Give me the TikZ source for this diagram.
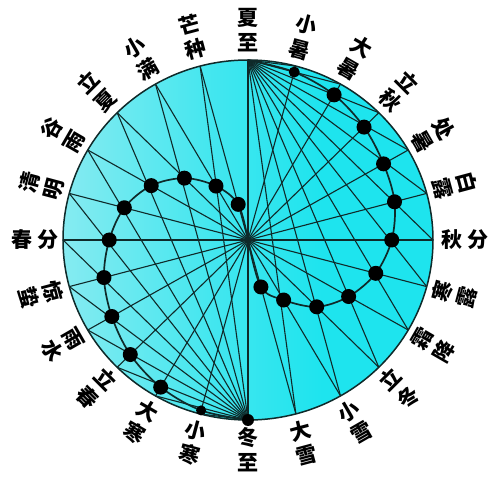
\documentclass[tikz,border=0pt]{standalone}
\usepackage{fontspec}
\newfontfamily\cjk{Noto Sans CJK SC}
\usepackage{xcolor}
\usepackage{tikz}
\definecolor{linedark}{HTML}{0F2A2A}
\definecolor{palecyan}{HTML}{B4EEF2}
\definecolor{brightcyan}{HTML}{1EE4EE}
\pgfdeclarehorizontalshading{discshade}{100bp}{color(0bp)=(palecyan); color(20bp)=(palecyan!80!brightcyan); color(45bp)=(palecyan!25!brightcyan); color(60bp)=(brightcyan); color(100bp)=(brightcyan)}

\tikzset{
  term/.style={font=\cjk\bfseries\fontsize{21}{25}\selectfont, inner sep=0pt, align=center},
  chord/.style={draw=linedark, line width=1.1pt},
  track/.style={draw=linedark, line width=1.7pt, smooth, tension=0.55},
}

\begin{document}
\begin{tikzpicture}[x=1pt,y=1pt]
\useasboundingbox (-248,-236) rectangle (252,240);
\fill[white] (-248,-236) rectangle (252,240);
% disc
\shade[shading=discshade] (0,0) ellipse (185 and 180);

% the 24 term points, clockwise from the top
\foreach \i in {0,...,23}
    \coordinate (t\i) at ({90-15*\i}:185 and 180);

% diameters, and chords from the top and the bottom point
\foreach \i in {0,...,11}
{
    \pgfmathtruncatemacro{\j}{\i+12}
    \draw[chord] (t\i) -- (t\j);
}
\foreach \i in {1,...,11}
{
    \pgfmathtruncatemacro{\j}{\i+12}
    \draw[chord] (t0) -- (t\i);
    \draw[chord] (t12) -- (t\j);
}
\draw[linedark, line width=1.5pt] (0,0) ellipse (185 and 180);

% dots on the radii
\foreach \i/\f in {1/0.966, 2/0.931, 3/0.887, 4/0.846, 5/0.82, 6/0.777, 7/0.715, 8/0.628, 9/0.525, 10/0.385, 11/0.27,
                   13/0.98, 14/0.944, 15/0.90, 16/0.85, 17/0.806, 18/0.75, 19/0.692, 20/0.604, 21/0.486, 22/0.346, 23/0.205}
    \coordinate (d\i) at ({90-15*\i}:{185*\f} and {180*\f});
\coordinate (mid) at (0,0);

\draw[track] plot coordinates {(t0) (d1) (d2) (d3) (d4) (d5) (d6) (d7) (d8) (d9) (d10) (d11) (mid)};
\draw[track] plot coordinates {(t12) (d13) (d14) (d15) (d16) (d17) (d18) (d19) (d20) (d21) (d22) (d23) (mid)};

\foreach \i in {2,...,11,14,15,...,23}
    \fill[black] (d\i) circle (7.5);
\fill[black] (d1) circle (5.5);
\fill[black] (d13) circle (5);
\fill[black] (t12) circle (6);

% labels
\foreach \i/\ca/\cb in {0/夏/至, 1/小/暑, 2/大/暑, 3/立/秋, 4/处/暑, 5/白/露,
                        19/清/明, 20/谷/雨, 21/立/夏, 22/小/满, 23/芒/种}
    \node[term, rotate={-15*\i}] (lb\i) at ({90-15*\i}:214 and 210) {\ca\\\cb};
\foreach \i/\ca/\cb in {7/寒/露, 8/霜/降, 9/立/冬, 10/小/雪, 11/大/雪, 12/冬/至,
                        13/小/寒, 14/大/寒, 15/立/春, 16/雨/水, 17/惊/蛰}
    \node[term, rotate={180-15*\i}] (lb\i) at ({90-15*\i}:214 and 210) {\ca\\\cb};
\node[term] (lb6) at (0:217 and 210) {秋\hspace{5pt}分};
\node[term] (lb18) at (180:213 and 210) {春\hspace{5pt}分};
\end{tikzpicture}
\end{document}
